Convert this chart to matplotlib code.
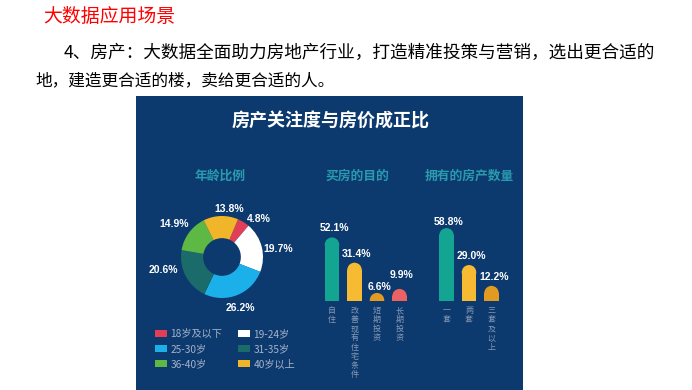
import matplotlib
matplotlib.use("Agg")
import matplotlib.pyplot as plt
from matplotlib.patches import Rectangle, Patch
import matplotlib.transforms as mtransforms

plt.rcParams['font.family'] = ['Noto Sans CJK SC', 'DejaVu Sans']

# ---------------- data ----------------
page_title = "大数据应用场景"
page_line1 = "4、房产：大数据全面助力房地产行业，打造精准投策与营销，选出更合适的"
page_line2 = "地，建造更合适的楼，卖给更合适的人。"
chart_title = "房产关注度与房价成正比"

age_title = "年龄比例"
age_labels = ["18岁及以下", "19-24岁", "25-30岁", "31-35岁", "36-40岁", "40岁以上"]
age_values = [4.8, 19.7, 26.2, 20.6, 14.9, 13.8]
age_colors = ["#e23e57", "#ffffff", "#1cb0ea", "#1c6b6b", "#5db944", "#f1b52a"]

purpose_title = "买房的目的"
purpose_labels = ["自住", "改善现有住宅条件", "短期投资", "长期投资"]
purpose_values = [52.1, 31.4, 6.6, 9.9]
purpose_colors = ["#13a592", "#f6bb33", "#e29b22", "#ec6161"]

owned_title = "拥有的房产数量"
owned_labels = ["一套", "两套", "三套及以上"]
owned_values = [58.8, 29.0, 12.2]
owned_colors = ["#13a592", "#f6bb33", "#e29b22"]

# ---------------- layout (pixels) ----------------
W, H, DPI = 692, 390, 100
PANEL = "#0c3a6e"
TEAL_TXT = "#2a9aae"
GREY_TXT = "#8798b4"

fig = plt.figure(figsize=(W / DPI, H / DPI), dpi=DPI)
fig.patch.set_facecolor("white")

bg = fig.add_axes([0, 0, 1, 1])
bg.set_xlim(0, W)
bg.set_ylim(H, 0)
bg.axis("off")


def px_axes(left, top, width, height):
    return fig.add_axes([left / W, 1 - (top + height) / H, width / W, height / H])


# page text
bg.text(43, 17, page_title, color="#ff0000", fontsize=13.6, va="center", ha="left")
bg.text(64, 53, page_line1, color="black", fontsize=12.7, va="center", ha="left")
bg.text(35, 81, page_line2, color="black", fontsize=12.0, va="center", ha="left")

# infographic panel
bg.add_patch(Rectangle((136, 96), 387, 300, facecolor=PANEL, edgecolor="none"))
bg.text(331, 121, chart_title, color="white", fontsize=13, fontweight="bold",
        ha="center", va="center")
bg.text(220, 176, age_title, color=TEAL_TXT, fontsize=9.2, fontweight="bold",
        ha="center", va="center")
bg.text(357, 176, purpose_title, color=TEAL_TXT, fontsize=9.2, fontweight="bold",
        ha="center", va="center")
bg.text(469, 176, owned_title, color=TEAL_TXT, fontsize=9.2, fontweight="bold",
        ha="center", va="center")

# ---------------- donut ----------------
cx, cy, R = 222, 257, 41
dax = px_axes(cx - R, cy - R, 2 * R, 2 * R)
wedges, _ = dax.pie(age_values, colors=age_colors, startangle=67, counterclock=False,
                    radius=1.0, wedgeprops=dict(width=0.54, edgecolor="none"))
dax.set_xlim(-1, 1)
dax.set_ylim(-1, 1)
dax.set_aspect("equal")
dax.axis("off")

age_label_pos = [(259, 219), (278, 249), (240, 308), (163, 270), (174, 224), (229, 209)]
for v, (x, y) in zip(age_values, age_label_pos):
    bg.text(x, y, f"{v:.1f}%", color="white", fontsize=7.5, fontweight="bold",
            family="Liberation Sans", ha="center", va="center")

order = [0, 2, 4, 1, 3, 5]
handles = [Patch(facecolor=age_colors[i], edgecolor="none") for i in order]
leg = fig.legend(handles, [age_labels[i] for i in order], ncol=2,
                 loc="upper left", bbox_to_anchor=(155 / W, 1 - 329 / H),
                 frameon=False, fontsize=7.3, borderpad=0, borderaxespad=0,
                 handlelength=1.2, handleheight=0.7, handletextpad=0.3,
                 columnspacing=1.6, labelspacing=0.5)
for t in leg.get_texts():
    t.set_color("#a7b3c9")


# ---------------- bar charts ----------------
def rounded_bars(values, labels, colors, center0, px_per_pct, label_dy):
    step = 22.5
    bw_px = 14.5
    n = len(values)
    base_y = 301
    top_px = 81
    ax = px_axes(center0 - step / 2, base_y - top_px, step * n, top_px)
    ax.set_xlim(-0.5, n - 0.5)
    ax.set_ylim(0, top_px / px_per_pct)
    ax.axis("off")
    r_data = (bw_px / 2) / px_per_pct
    xs = list(range(n))
    ax.bar(xs, [max(v - r_data, 0) for v in values], width=bw_px / step,
           color=colors, linewidth=0)
    ax.scatter(xs, [v - r_data for v in values], s=(bw_px * 72 / DPI) ** 2,
               c=colors, linewidths=0, marker="o", clip_on=True, zorder=3)
    for x, v, dy in zip(xs, values, label_dy):
        ax.annotate(f"{v:.1f}%", (x, v), xytext=(2.5 * 72 / DPI, dy * 72 / DPI),
                    textcoords="offset points", color="white", fontsize=7.5,
                    fontweight="bold", family="Liberation Sans",
                    ha="center", va="center", annotation_clip=False)
    trans = mtransforms.blended_transform_factory(ax.transData, ax.transAxes)
    for x, lab in zip(xs, labels):
        ax.text(x, -5 / top_px, "\n".join(lab), transform=trans, color=GREY_TXT,
                fontsize=5.8, ha="center", va="top", linespacing=1.02)
    return ax


rounded_bars(purpose_values, purpose_labels, purpose_colors, 332, 1.22, [9, 9, 6, 14])
rounded_bars(owned_values, owned_labels, owned_colors, 446.5, 1.24, [6, 9, 9])

fig.savefig("out.png", dpi=DPI)
